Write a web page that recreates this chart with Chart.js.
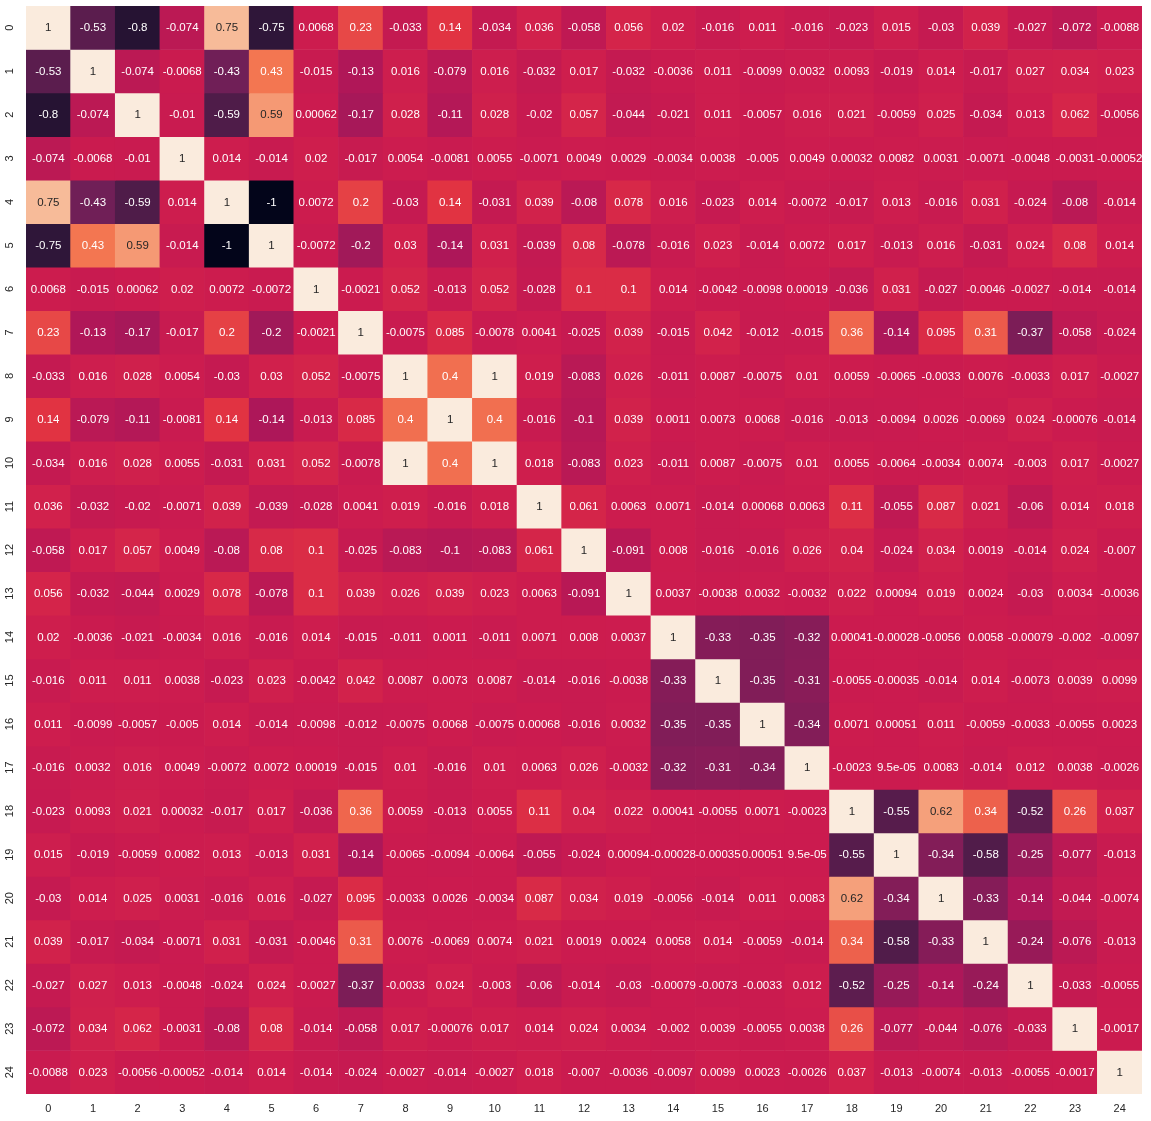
<!DOCTYPE html>
<html>
<head>
<meta charset="utf-8">
<script src="https://cdn.jsdelivr.net/npm/chart.js@4.4.1/dist/chart.umd.min.js"></script>
<style>
  html, body { margin: 0; padding: 0; background: #ffffff; }
  #wrap { width: 1151px; height: 1121px; }
</style>
</head>
<body>
<div id="wrap"><canvas id="c" width="1151" height="1121"></canvas></div>
<script>
// ---- Data ----
const xLabels = ['0','1','2','3','4','5','6','7','8','9','10','11','12','13','14','15','16','17','18','19','20','21','22','23','24'];
const yLabels = ['0','1','2','3','4','5','6','7','8','9','10','11','12','13','14','15','16','17','18','19','20','21','22','23','24'];

const row0  = [1, -0.53, -0.8, -0.074, 0.75, -0.75, 0.0068, 0.23, -0.033, 0.14, -0.034, 0.036, -0.058, 0.056, 0.02, -0.016, 0.011, -0.016, -0.023, 0.015, -0.03, 0.039, -0.027, -0.072, -0.0088];
const row1  = [-0.53, 1, -0.074, -0.0068, -0.43, 0.43, -0.015, -0.13, 0.016, -0.079, 0.016, -0.032, 0.017, -0.032, -0.0036, 0.011, -0.0099, 0.0032, 0.0093, -0.019, 0.014, -0.017, 0.027, 0.034, 0.023];
const row2  = [-0.8, -0.074, 1, -0.01, -0.59, 0.59, 0.00062, -0.17, 0.028, -0.11, 0.028, -0.02, 0.057, -0.044, -0.021, 0.011, -0.0057, 0.016, 0.021, -0.0059, 0.025, -0.034, 0.013, 0.062, -0.0056];
const row3  = [-0.074, -0.0068, -0.01, 1, 0.014, -0.014, 0.02, -0.017, 0.0054, -0.0081, 0.0055, -0.0071, 0.0049, 0.0029, -0.0034, 0.0038, -0.005, 0.0049, 0.00032, 0.0082, 0.0031, -0.0071, -0.0048, -0.0031, -0.00052];
const row4  = [0.75, -0.43, -0.59, 0.014, 1, -1, 0.0072, 0.2, -0.03, 0.14, -0.031, 0.039, -0.08, 0.078, 0.016, -0.023, 0.014, -0.0072, -0.017, 0.013, -0.016, 0.031, -0.024, -0.08, -0.014];
const row5  = [-0.75, 0.43, 0.59, -0.014, -1, 1, -0.0072, -0.2, 0.03, -0.14, 0.031, -0.039, 0.08, -0.078, -0.016, 0.023, -0.014, 0.0072, 0.017, -0.013, 0.016, -0.031, 0.024, 0.08, 0.014];
const row6  = [0.0068, -0.015, 0.00062, 0.02, 0.0072, -0.0072, 1, -0.0021, 0.052, -0.013, 0.052, -0.028, 0.1, 0.1, 0.014, -0.0042, -0.0098, 0.00019, -0.036, 0.031, -0.027, -0.0046, -0.0027, -0.014, -0.014];
const row7  = [0.23, -0.13, -0.17, -0.017, 0.2, -0.2, -0.0021, 1, -0.0075, 0.085, -0.0078, 0.0041, -0.025, 0.039, -0.015, 0.042, -0.012, -0.015, 0.36, -0.14, 0.095, 0.31, -0.37, -0.058, -0.024];
const row8  = [-0.033, 0.016, 0.028, 0.0054, -0.03, 0.03, 0.052, -0.0075, 1, 0.4, 1, 0.019, -0.083, 0.026, -0.011, 0.0087, -0.0075, 0.01, 0.0059, -0.0065, -0.0033, 0.0076, -0.0033, 0.017, -0.0027];
const row9  = [0.14, -0.079, -0.11, -0.0081, 0.14, -0.14, -0.013, 0.085, 0.4, 1, 0.4, -0.016, -0.1, 0.039, 0.0011, 0.0073, 0.0068, -0.016, -0.013, -0.0094, 0.0026, -0.0069, 0.024, -0.00076, -0.014];
const row10 = [-0.034, 0.016, 0.028, 0.0055, -0.031, 0.031, 0.052, -0.0078, 1, 0.4, 1, 0.018, -0.083, 0.023, -0.011, 0.0087, -0.0075, 0.01, 0.0055, -0.0064, -0.0034, 0.0074, -0.003, 0.017, -0.0027];
const row11 = [0.036, -0.032, -0.02, -0.0071, 0.039, -0.039, -0.028, 0.0041, 0.019, -0.016, 0.018, 1, 0.061, 0.0063, 0.0071, -0.014, 0.00068, 0.0063, 0.11, -0.055, 0.087, 0.021, -0.06, 0.014, 0.018];
const row12 = [-0.058, 0.017, 0.057, 0.0049, -0.08, 0.08, 0.1, -0.025, -0.083, -0.1, -0.083, 0.061, 1, -0.091, 0.008, -0.016, -0.016, 0.026, 0.04, -0.024, 0.034, 0.0019, -0.014, 0.024, -0.007];
const row13 = [0.056, -0.032, -0.044, 0.0029, 0.078, -0.078, 0.1, 0.039, 0.026, 0.039, 0.023, 0.0063, -0.091, 1, 0.0037, -0.0038, 0.0032, -0.0032, 0.022, 0.00094, 0.019, 0.0024, -0.03, 0.0034, -0.0036];
const row14 = [0.02, -0.0036, -0.021, -0.0034, 0.016, -0.016, 0.014, -0.015, -0.011, 0.0011, -0.011, 0.0071, 0.008, 0.0037, 1, -0.33, -0.35, -0.32, 0.00041, -0.00028, -0.0056, 0.0058, -0.00079, -0.002, -0.0097];
const row15 = [-0.016, 0.011, 0.011, 0.0038, -0.023, 0.023, -0.0042, 0.042, 0.0087, 0.0073, 0.0087, -0.014, -0.016, -0.0038, -0.33, 1, -0.35, -0.31, -0.0055, -0.00035, -0.014, 0.014, -0.0073, 0.0039, 0.0099];
const row16 = [0.011, -0.0099, -0.0057, -0.005, 0.014, -0.014, -0.0098, -0.012, -0.0075, 0.0068, -0.0075, 0.00068, -0.016, 0.0032, -0.35, -0.35, 1, -0.34, 0.0071, 0.00051, 0.011, -0.0059, -0.0033, -0.0055, 0.0023];
const row17 = [-0.016, 0.0032, 0.016, 0.0049, -0.0072, 0.0072, 0.00019, -0.015, 0.01, -0.016, 0.01, 0.0063, 0.026, -0.0032, -0.32, -0.31, -0.34, 1, -0.0023, 9.5e-05, 0.0083, -0.014, 0.012, 0.0038, -0.0026];
const row18 = [-0.023, 0.0093, 0.021, 0.00032, -0.017, 0.017, -0.036, 0.36, 0.0059, -0.013, 0.0055, 0.11, 0.04, 0.022, 0.00041, -0.0055, 0.0071, -0.0023, 1, -0.55, 0.62, 0.34, -0.52, 0.26, 0.037];
const row19 = [0.015, -0.019, -0.0059, 0.0082, 0.013, -0.013, 0.031, -0.14, -0.0065, -0.0094, -0.0064, -0.055, -0.024, 0.00094, -0.00028, -0.00035, 0.00051, 9.5e-05, -0.55, 1, -0.34, -0.58, -0.25, -0.077, -0.013];
const row20 = [-0.03, 0.014, 0.025, 0.0031, -0.016, 0.016, -0.027, 0.095, -0.0033, 0.0026, -0.0034, 0.087, 0.034, 0.019, -0.0056, -0.014, 0.011, 0.0083, 0.62, -0.34, 1, -0.33, -0.14, -0.044, -0.0074];
const row21 = [0.039, -0.017, -0.034, -0.0071, 0.031, -0.031, -0.0046, 0.31, 0.0076, -0.0069, 0.0074, 0.021, 0.0019, 0.0024, 0.0058, 0.014, -0.0059, -0.014, 0.34, -0.58, -0.33, 1, -0.24, -0.076, -0.013];
const row22 = [-0.027, 0.027, 0.013, -0.0048, -0.024, 0.024, -0.0027, -0.37, -0.0033, 0.024, -0.003, -0.06, -0.014, -0.03, -0.00079, -0.0073, -0.0033, 0.012, -0.52, -0.25, -0.14, -0.24, 1, -0.033, -0.0055];
const row23 = [-0.072, 0.034, 0.062, -0.0031, -0.08, 0.08, -0.014, -0.058, 0.017, -0.00076, 0.017, 0.014, 0.024, 0.0034, -0.002, 0.0039, -0.0055, 0.0038, 0.26, -0.077, -0.044, -0.076, -0.033, 1, -0.0017];
const row24 = [-0.0088, 0.023, -0.0056, -0.00052, -0.014, 0.014, -0.014, -0.024, -0.0027, -0.014, -0.0027, 0.018, -0.007, -0.0036, -0.0097, 0.0099, 0.0023, -0.0026, 0.037, -0.013, -0.0074, -0.013, -0.0055, -0.0017, 1];

const rows = [row0,row1,row2,row3,row4,row5,row6,row7,row8,row9,row10,row11,row12,row13,row14,row15,row16,row17,row18,row19,row20,row21,row22,row23,row24];

// ---- Colormap (seaborn "rocket") ----
const rocketStops = [
  [0.000, [3, 5, 26]],
  [0.143, [53, 25, 62]],
  [0.286, [112, 31, 87]],
  [0.429, [173, 23, 89]],
  [0.500, [203, 27, 79]],
  [0.571, [225, 51, 66]],
  [0.714, [243, 118, 81]],
  [0.857, [246, 180, 143]],
  [1.000, [250, 235, 221]]
];
const vmin = -1, vmax = 1;
function rocketRGB(v) {
  let t = (v - vmin) / (vmax - vmin);
  t = Math.max(0, Math.min(1, t));
  for (let i = 1; i < rocketStops.length; i++) {
    const [t1, c1] = rocketStops[i];
    const [t0, c0] = rocketStops[i - 1];
    if (t <= t1) {
      const f = (t - t0) / (t1 - t0);
      return c0.map((c, k) => Math.round(c + (c1[k] - c) * f));
    }
  }
  return rocketStops[rocketStops.length - 1][1];
}
function rgbStr(c) { return `rgb(${c[0]},${c[1]},${c[2]})`; }
function relLum(c) {
  const l = c.map(x => { x /= 255; return x <= 0.03928 ? x / 12.92 : Math.pow((x + 0.055) / 1.055, 2.4); });
  return 0.2126 * l[0] + 0.7152 * l[1] + 0.0722 * l[2];
}
function fmt2g(v) {
  if (v === 0) return '0';
  if (Math.abs(v) < 1e-4) {
    let s = v.toExponential(1);
    let [m, e] = s.split('e');
    m = m.replace(/\.?0+$/, '');
    const sign = e[0] === '-' ? '-' : '+';
    let digits = e.replace(/^[+-]/, '');
    if (digits.length < 2) digits = '0' + digits;
    return m + 'e' + sign + digits;
  }
  let s = v.toPrecision(2);
  if (s.indexOf('.') >= 0 && s.indexOf('e') < 0) s = s.replace(/\.?0+$/, '');
  return s;
}

const FONT = "'Liberation Sans', Arial, sans-serif";

const datasets = rows.map((vals, r) => ({
  label: yLabels[r],
  data: vals.map(() => [r, r + 1]),
  backgroundColor: vals.map(v => rgbStr(rocketRGB(v))),
  borderWidth: 0,
  grouped: false,
  barPercentage: 1.0,
  categoryPercentage: 1.0
}));

const annotPlugin = {
  id: 'annot',
  afterDatasetsDraw(chart) {
    const ctx = chart.ctx;
    ctx.save();
    ctx.font = `11.5px ${FONT}`;
    ctx.textAlign = 'center';
    ctx.textBaseline = 'middle';
    chart.data.datasets.forEach((ds, r) => {
      const meta = chart.getDatasetMeta(r);
      meta.data.forEach((el, c) => {
        const v = rows[r][c];
        const col = rocketRGB(v);
        ctx.fillStyle = relLum(col) > 0.408 ? '#262626' : '#ffffff';
        const cy = (el.y + el.base) / 2;
        ctx.fillText(fmt2g(v), el.x, cy + 0.5);
      });
    });
    ctx.restore();
  }
};

new Chart(document.getElementById('c'), {
  type: 'bar',
  data: { labels: xLabels, datasets },
  options: {
    responsive: false,
    animation: false,
    devicePixelRatio: 1,
    layout: { padding: { top: 6, right: 9, left: 0, bottom: 0 } },
    plugins: { legend: { display: false }, tooltip: { enabled: false } },
    scales: {
      x: {
        type: 'category',
        offset: true,
        grid: { display: false, drawTicks: false },
        border: { display: false },
        ticks: { color: '#262626', font: { family: FONT, size: 11 }, padding: 8, autoSkip: false, maxRotation: 0, minRotation: 0 },
        afterFit(axis) { axis.height = 27; axis.paddingLeft = 0; axis.paddingRight = 0; }
      },
      y: {
        type: 'linear',
        reverse: true,
        min: 0,
        max: 25,
        grid: { display: false, drawTicks: false },
        border: { display: false },
        afterBuildTicks(axis) { axis.ticks = yLabels.map((_, i) => ({ value: i + 0.5 })); },
        ticks: {
          color: '#262626',
          font: { family: FONT, size: 11 },
          autoSkip: false,
          minRotation: 90,
          maxRotation: 90,
          crossAlign: 'center',
          padding: 10,
          callback: (val, idx) => yLabels[idx]
        },
        afterFit(axis) { axis.width = 26; axis.paddingTop = 0; axis.paddingBottom = 0; }
      }
    }
  },
  plugins: [annotPlugin]
});
</script>
</body>
</html>
